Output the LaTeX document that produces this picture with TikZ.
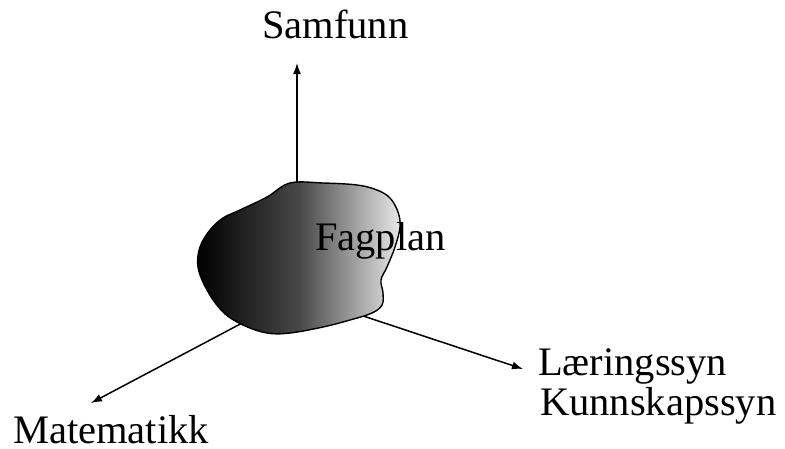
\documentclass[tikz,border=0pt]{standalone}
\usepackage{fontspec}
\setmainfont{Liberation Serif}
\usetikzlibrary{arrows.meta}
\begin{document}
\begin{tikzpicture}[x=1pt,y=-1pt,
  lbl/.style={font=\fontsize{40.5}{41}\selectfont, inner sep=0pt, anchor=base west},
  axis/.style={line width=1.5pt, -{Latex[length=11pt,width=8pt]}},
  blob/.style={draw=black, line width=1.4pt, left color=black, right color=gray!18, middle color=black!72}]
\useasboundingbox (0,0) rectangle (785,448);
\coordinate (O) at (297,294);
\coordinate (topTip) at (297,63);
\coordinate (leftTip) at (91,403);
\coordinate (rightTip) at (523,369);
\draw[axis] (O) -- (topTip);
\draw[axis] (O) -- (leftTip);
\draw[axis] (O) -- (rightTip);
\path[blob] plot[smooth cycle, tension=0.6] coordinates {
 (290,183) (323,183) (357,185) (377,190) (390,198) (398,212) (400,227)
 (395,247) (387,267) (381,280) (383,293) (382,305) (372,313) (350,320)
 (323,327) (290,333) (267,333) (243,325) (223,312) (207,290) (198,267)
 (200,247) (210,230) (223,218) (240,210) (267,197)};
\node[lbl] (fag) at (315,250) {Fagplan};
\node[lbl] (sam) at (262,38) {Samfunn};
\node[lbl] (mat) at (13,443) {Matematikk};
\node[lbl] (lar) at (538,375) {Læringssyn};
\node[lbl] (kun) at (540,415) {Kunnskapssyn};
\end{tikzpicture}
\end{document}
